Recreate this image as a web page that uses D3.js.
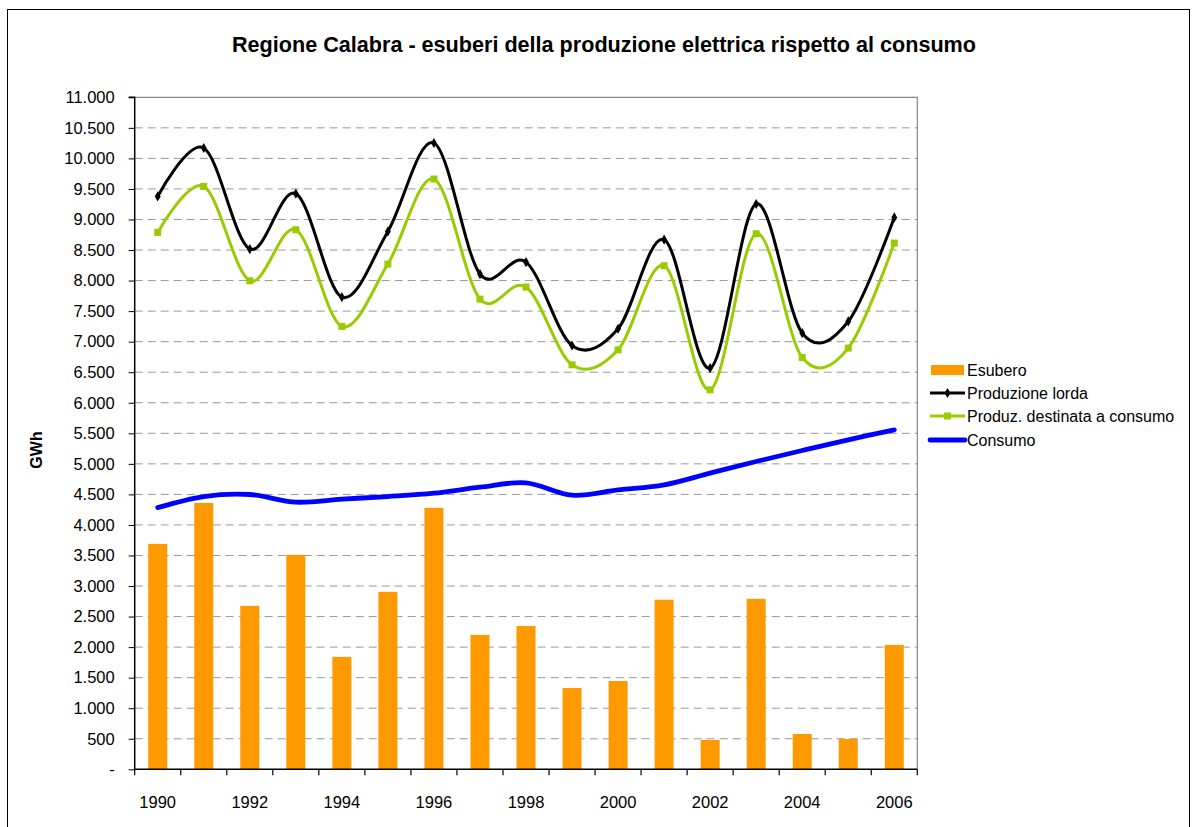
<!DOCTYPE html>
<html><head><meta charset="utf-8">
<script src="https://cdn.jsdelivr.net/npm/d3@7/dist/d3.min.js"></script>
<style>body{margin:0;background:#fff}svg{display:block;font-family:"Liberation Sans",Arial,sans-serif}</style>
</head><body>
<svg id="c" width="1192" height="827"></svg>
<script>
const years = [1990,1991,1992,1993,1994,1995,1996,1997,1998,1999,2000,2001,2002,2003,2004,2005,2006];
const esubero = [3690,4360,2675,3510,1840,2905,4280,2200,2345,1330,1445,2775,480,2790,578,496,2036];
const produzioneLorda = [9378,10170,8516,9422,7730,8804,10252,8107,8303,6937,7211,8669,6567,9253,7140,7331,9034];
const produzDestinata = [8788,9541,7997,8832,7249,8270,9662,7697,7894,6621,6867,8243,6212,8767,6741,6895,8614];
const consumo = [4284,4465,4498,4373,4422,4465,4520,4618,4688,4487,4574,4656,4848,5038,5218,5393,5557];
const yTicks = [0,500,1000,1500,2000,2500,3000,3500,4000,4500,5000,5500,6000,6500,7000,7500,8000,8500,9000,9500,10000,10500,11000];
const xLabelYears = [1990,1992,1994,1996,1998,2000,2002,2004,2006];
const legendItems = ["Esubero","Produzione lorda","Produz. destinata a consumo","Consumo"];

const svg = d3.select("#c");
const L = 134.7, R = 917.3, T = 97.3, B = 769.3;

// outer border
svg.append("rect").attr("x",7.5).attr("y",9.5).attr("width",1182).attr("height",830)
  .attr("fill","none").attr("stroke","#000").attr("stroke-width",1);

const x = d3.scaleBand().domain(years).range([L,R]).paddingInner(0).paddingOuter(0);
const y = d3.scaleLinear().domain([0,11000]).range([B,T]);

// gridlines
svg.append("g").selectAll("line").data(yTicks.filter(d=>d>0 && d<11000)).join("line")
  .attr("x1",L).attr("x2",R).attr("y1",d=>y(d)).attr("y2",d=>y(d))
  .attr("stroke","#999").attr("stroke-width",1).attr("stroke-dasharray","8,5");

// plot border top/right
svg.append("path").attr("d",`M${L},${T}H${R}V${B}`).attr("fill","none").attr("stroke","#888").attr("stroke-width",1.2);

// bars
const bw = 19;
svg.append("g").selectAll("rect").data(years).join("rect")
  .attr("x",(d)=>x(d)+x.bandwidth()/2-bw/2).attr("width",bw)
  .attr("y",(d,i)=>y(esubero[i])).attr("height",(d,i)=>B-y(esubero[i]))
  .attr("fill","#FF9900");

const cx = d => x(d)+x.bandwidth()/2;
const line = d3.line().x((d,i)=>cx(years[i])).y(d=>y(d)).curve(d3.curveCardinal.tension(0));

svg.append("path").attr("d",line(consumo)).attr("fill","none").attr("stroke","#0000FF").attr("stroke-width",4.8).attr("stroke-linecap","round");
svg.append("path").attr("d",line(produzDestinata)).attr("fill","none").attr("stroke","#99CC00").attr("stroke-width",3);
svg.append("path").attr("d",line(produzioneLorda)).attr("fill","none").attr("stroke","#000").attr("stroke-width",3);

// markers
svg.append("g").selectAll("rect").data(produzDestinata).join("rect")
  .attr("x",(d,i)=>cx(years[i])-3.5).attr("y",d=>y(d)-3.5).attr("width",7).attr("height",7).attr("fill","#99CC00");
svg.append("g").selectAll("path").data(produzioneLorda).join("path")
  .attr("d",d3.symbol(d3.symbolDiamond,30)())
  .attr("transform",(d,i)=>`translate(${cx(years[i])},${y(d)})`).attr("fill","#000");

// y axis
const yAxis = d3.axisLeft(y).tickValues(yTicks).tickSize(6).tickPadding(14)
  .tickFormat(d=> d===0 ? "-" : d3.format(",")(d).replace(/,/g,"."));
const gy = svg.append("g").attr("transform",`translate(${L},0)`).call(yAxis);
gy.select(".domain").attr("stroke","#000").attr("stroke-width",1.5).attr("d",`M-6,${T}H0V${B}`);
gy.selectAll(".tick line").attr("stroke","#000");
gy.selectAll("text").attr("font-size",16.5).attr("fill","#000").attr("font-family","Liberation Sans, Arial, sans-serif");

// x axis: ticks at band boundaries
const xb = svg.append("g");
xb.append("line").attr("x1",L).attr("x2",R).attr("y1",B).attr("y2",B).attr("stroke","#000").attr("stroke-width",1.5);
xb.selectAll("line.t").data(years.concat([null])).join("line").attr("class","t")
  .attr("x1",(d,i)=>L+i*x.bandwidth()).attr("x2",(d,i)=>L+i*x.bandwidth())
  .attr("y1",B).attr("y2",B+6).attr("stroke","#000").attr("stroke-width",1.2);
xb.selectAll("text").data(xLabelYears).join("text")
  .attr("x",d=>cx(d)).attr("y",808).attr("text-anchor","middle").attr("font-size",16.5).attr("fill","#000").text(d=>d);

// title
svg.append("text").attr("x",604).attr("y",52).attr("text-anchor","middle").attr("font-size",21.6).attr("font-weight","bold").text("Regione Calabra - esuberi della produzione elettrica rispetto al consumo");

// y title
svg.append("text").attr("transform","translate(42,450) rotate(-90)").attr("text-anchor","middle").attr("font-size",16).attr("font-weight","bold").text("GWh");

// legend
const lg = svg.append("g");
const ly = [370,393,416,440];
legendItems.forEach((name,i)=>{
  const g = lg.append("g").attr("transform",`translate(0,${ly[i]})`);
  if(i===0){ g.append("rect").attr("x",931).attr("y",-5).attr("width",33).attr("height",10).attr("fill","#FF9900"); }
  else if(i===1){ g.append("line").attr("x1",930).attr("x2",965).attr("stroke","#000").attr("stroke-width",3);
    g.append("path").attr("d",d3.symbol(d3.symbolDiamond,30)()).attr("transform","translate(947.5,0)"); }
  else if(i===2){ g.append("line").attr("x1",930).attr("x2",965).attr("stroke","#99CC00").attr("stroke-width",3);
    g.append("rect").attr("x",944).attr("y",-3.5).attr("width",7).attr("height",7).attr("fill","#99CC00"); }
  else { g.append("line").attr("x1",930).attr("x2",965).attr("stroke","#0000FF").attr("stroke-width",4.8).attr("stroke-linecap","round"); }
  g.append("text").attr("x",967).attr("y",6).attr("font-size",16).attr("fill","#000").text(name);
});
</script>
</body></html>
